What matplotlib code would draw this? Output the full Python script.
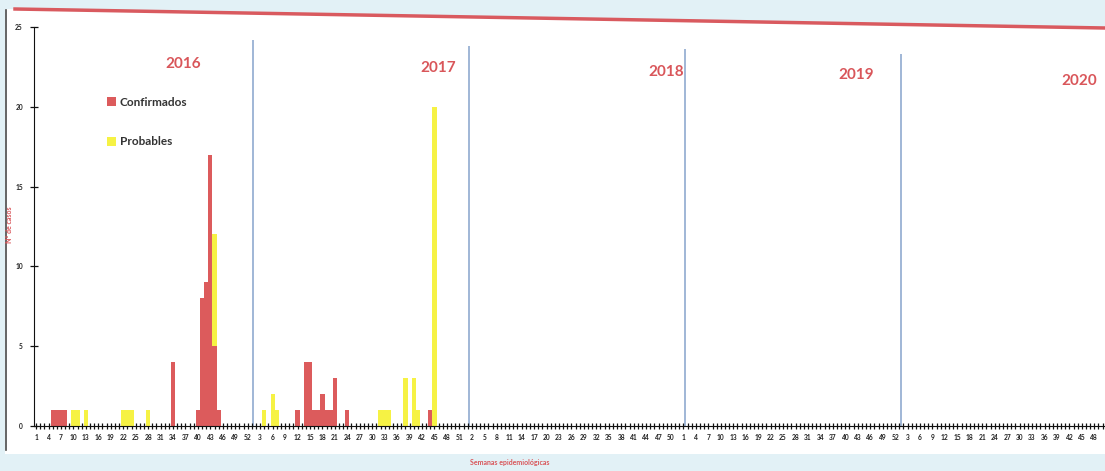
import matplotlib
matplotlib.use('Agg')
import matplotlib.pyplot as plt
from matplotlib.patches import Polygon
from matplotlib.lines import Line2D
from matplotlib.ticker import FixedLocator, MultipleLocator

plt.rcParams['font.family'] = ['Lato', 'DejaVu Sans']

# weeks per epidemiological year shown on the axis
years = ['2016', '2017', '2018', '2019', '2020']
year_weeks = [52, 52, 52, 52, 53]

# confirmed cases (week of year, count)
conf_2016_weeks = [5, 6, 7, 8, 34, 40, 41, 42, 43, 44, 45]
conf_2016_vals = [1, 1, 1, 1, 4, 1, 8, 9, 17, 5, 1]
conf_2017_weeks = [12, 14, 15, 16, 17, 18, 19, 20, 21, 24, 44]
conf_2017_vals = [1, 4, 4, 1, 1, 2, 1, 1, 3, 1, 1]

# probable cases (stacked on top of confirmed)
prob_2016_weeks = [10, 11, 13, 22, 23, 24, 28, 44]
prob_2016_vals = [1, 1, 1, 1, 1, 1, 1, 7]
prob_2017_weeks = [4, 6, 7, 32, 33, 34, 38, 40, 41, 45]
prob_2017_vals = [1, 2, 1, 1, 1, 1, 3, 3, 1, 20]

red = '#dc5b5c'
yellow = '#f6f244'
W, H = 1105, 471

fig = plt.figure(figsize=(W / 100, H / 100), dpi=100)
fig.patch.set_facecolor('#e2f1f6')
# white page below the red rule
fig.add_artist(Polygon([(5 / W, 1 - 9 / H), (1.0, 1 - 28 / H), (1.0, 1 - 454 / H), (5 / W, 1 - 454 / H)],
                       closed=True, transform=fig.transFigure, facecolor='white', edgecolor='none', zorder=0))
fig.add_artist(Line2D([5.5 / W, 5.5 / W], [1 - 10 / H, 1 - 450 / H], transform=fig.transFigure,
                      color='#4a4a4a', lw=1.2))
fig.add_artist(Line2D([15 / W, 1.0], [1 - 9 / H, 1 - 28 / H], transform=fig.transFigure,
                      color='#d95a5f', lw=2.5))

px_week = 4.15
ax = fig.add_axes([34 / W, 1 - 426 / H, (W - 34) / W, 399 / H])
ax.set_facecolor('none')

# offsets of each year on the continuous week axis
offsets = [sum(year_weeks[:i]) for i in range(len(year_weeks))]

conf_x = [offsets[0] + w for w in conf_2016_weeks] + [offsets[1] + w for w in conf_2017_weeks]
conf_y = conf_2016_vals + conf_2017_vals
prob_x = [offsets[0] + w for w in prob_2016_weeks] + [offsets[1] + w for w in prob_2017_weeks]
prob_y = prob_2016_vals + prob_2017_vals
conf_map = dict(zip(conf_x, conf_y))
prob_bottom = [conf_map.get(x, 0) for x in prob_x]

ax.bar(conf_x, conf_y, width=1.0, color=red, linewidth=0, label='Confirmados', zorder=2)
ax.bar(prob_x, prob_y, width=1.0, bottom=prob_bottom, color=yellow, linewidth=0,
       label='Probables', zorder=2)

# year separators and labels
sep_top = [24.2, 23.8, 23.6, 23.3]
for i in range(1, len(years)):
    ax.vlines(offsets[i] + 1.3, 0, sep_top[i - 1], color='#86a3cb', lw=1.1, zorder=1)
year_label_x = [36.4, 97.9, 152.8, 198.6, 252.3]
year_label_y = [22.7, 22.4, 22.2, 22.0, 21.6]
for lab, xx, yy in zip(years, year_label_x, year_label_y):
    ax.text(xx, yy, lab, color='#d9565a', fontsize=11, fontweight='bold', ha='center', va='center')

total = sum(year_weeks)
ax.set_xlim(0.5, 0.5 + (W - 34) / px_week)
ax.set_ylim(0, 25)

major = list(range(1, total + 1, 3))
labels = []
for idx in major:
    k = 0
    while idx > offsets[k] + year_weeks[k]:
        k += 1
    labels.append(str(idx - offsets[k]))
ax.xaxis.set_major_locator(FixedLocator(major))
ax.set_xticklabels(labels)
ax.xaxis.set_minor_locator(MultipleLocator(1))
ax.tick_params(axis='x', which='both', direction='inout', length=5, width=0.9, color='#111',
               labelsize=4.8, pad=3, labelcolor='#222')
ax.set_yticks([0, 5, 10, 15, 20, 25])
ax.tick_params(axis='y', direction='inout', length=6, width=0.9, color='#111',
               labelsize=4.8, pad=5, labelcolor='#222')
for t in ax.get_xticklabels() + ax.get_yticklabels():
    t.set_fontweight('bold')

for s in ['top', 'right']:
    ax.spines[s].set_visible(False)
ax.spines['left'].set_color('#111')
ax.spines['bottom'].set_color('#111')

leg = ax.legend(loc='upper left', bbox_to_anchor=(0.068, 0.825), frameon=False, borderaxespad=0,
                borderpad=0, handlelength=0.8, handleheight=0.8, handletextpad=0.3,
                labelspacing=2.4, prop={'size': 8.5, 'weight': 'bold'})
for t in leg.get_texts():
    t.set_color('#333')

fig.text(10 / W, 1 - 225 / H, 'N° de casos', rotation=90, color='#d9565a', fontsize=5,
         fontweight='bold', ha='center', va='center')
fig.text(510 / W, 1 - 462 / H, 'Semanas epidemiológicas', color='#d9565a', fontsize=5,
         fontweight='bold', ha='center', va='center')

fig.savefig('out.png', dpi=100, facecolor=fig.get_facecolor())
